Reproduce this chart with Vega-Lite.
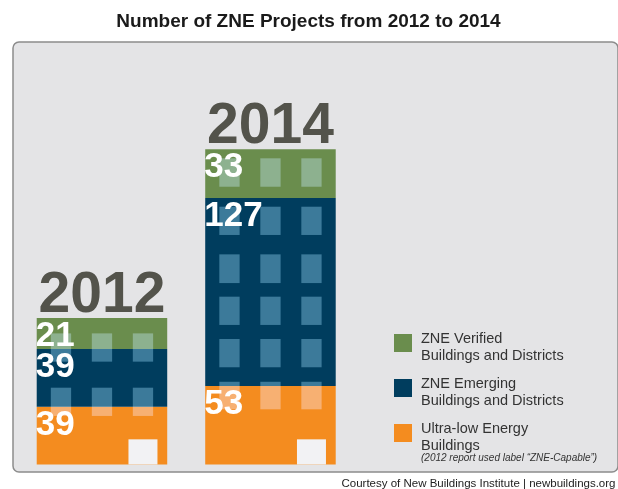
{
  "$schema": "https://vega.github.io/schema/vega-lite/v6.json",
  "width": 605,
  "height": 430,
  "autosize": {"type": "none"},
  "padding": {"left": 13, "top": 42, "right": 0, "bottom": 17},
  "background": "white",
  "config": {
    "view": {"fill": "#e4e4e6", "stroke": "#8c8c8c", "strokeWidth": 1.5, "cornerRadius": 6},
    "font": "Liberation Sans",
    "axisX": {
      "labels": false,
      "ticks": false,
      "domain": false,
      "grid": false,
      "titleFont": "Liberation Sans",
      "titleFontSize": 11.5,
      "titleFontWeight": "normal",
      "titleColor": "#222222",
      "titleX": 602,
      "titleAlign": "right",
      "titlePadding": 5
    }
  },
  "title": {
    "text": "Number of ZNE Projects from 2012 to 2014",
    "font": "Liberation Sans",
    "fontSize": 19,
    "fontWeight": "bold",
    "color": "#1a1a1a",
    "anchor": "middle",
    "frame": "group",
    "offset": 11,
    "dx": -7
  },
  "datasets": {
    "projects": [
      {"year": "2012", "category": "Ultra-low Energy Buildings", "count": 39, "tier": 1},
      {"year": "2012", "category": "ZNE Emerging Buildings and Districts", "count": 39, "tier": 2},
      {"year": "2012", "category": "ZNE Verified Buildings and Districts", "count": 21, "tier": 3},
      {"year": "2014", "category": "Ultra-low Energy Buildings", "count": 53, "tier": 1},
      {"year": "2014", "category": "ZNE Emerging Buildings and Districts", "count": 127, "tier": 2},
      {"year": "2014", "category": "ZNE Verified Buildings and Districts", "count": 33, "tier": 3}
    ],
    "windows": [
      {"year": "2012", "col": "c1", "lo": 69.5, "hi": 88.6},
      {"year": "2012", "col": "c2", "lo": 69.5, "hi": 88.6},
      {"year": "2012", "col": "c3", "lo": 69.5, "hi": 88.6},
      {"year": "2012", "col": "c1", "lo": 32.8, "hi": 51.9},
      {"year": "2012", "col": "c2", "lo": 32.8, "hi": 51.9},
      {"year": "2012", "col": "c3", "lo": 32.8, "hi": 51.9},
      {"year": "2014", "col": "c1", "lo": 187.7, "hi": 206.9},
      {"year": "2014", "col": "c2", "lo": 187.7, "hi": 206.9},
      {"year": "2014", "col": "c3", "lo": 187.7, "hi": 206.9},
      {"year": "2014", "col": "c1", "lo": 155.1, "hi": 174.2},
      {"year": "2014", "col": "c2", "lo": 155.1, "hi": 174.2},
      {"year": "2014", "col": "c3", "lo": 155.1, "hi": 174.2},
      {"year": "2014", "col": "c1", "lo": 122.6, "hi": 142.0},
      {"year": "2014", "col": "c2", "lo": 122.6, "hi": 142.0},
      {"year": "2014", "col": "c3", "lo": 122.6, "hi": 142.0},
      {"year": "2014", "col": "c1", "lo": 94.3, "hi": 113.4},
      {"year": "2014", "col": "c2", "lo": 94.3, "hi": 113.4},
      {"year": "2014", "col": "c3", "lo": 94.3, "hi": 113.4},
      {"year": "2014", "col": "c1", "lo": 65.7, "hi": 84.8},
      {"year": "2014", "col": "c2", "lo": 65.7, "hi": 84.8},
      {"year": "2014", "col": "c3", "lo": 65.7, "hi": 84.8},
      {"year": "2014", "col": "c1", "lo": 37.3, "hi": 55.9},
      {"year": "2014", "col": "c2", "lo": 37.3, "hi": 55.9},
      {"year": "2014", "col": "c3", "lo": 37.3, "hi": 55.9}
    ],
    "doors": [
      {"year": "2012", "col": "c3", "lo": 0, "hi": 17},
      {"year": "2014", "col": "c3", "lo": 0, "hi": 17}
    ]
  },
  "encoding": {
    "x": {
      "field": "year",
      "type": "nominal",
      "scale": {"domain": ["2012", "2014"], "paddingInner": 0.2255, "paddingOuter": 0.908, "align": 0.0775},
      "title": "Courtesy of New Buildings Institute | newbuildings.org"
    }
  },
  "layer": [
    {
      "data": {"name": "projects"},
      "mark": {"type": "bar"},
      "encoding": {
        "y": {
          "field": "count",
          "type": "quantitative",
          "stack": "zero",
          "scale": {"domain": [-5.07, 285.5], "nice": false, "zero": false},
          "axis": null
        },
        "color": {
          "field": "category",
          "type": "nominal",
          "scale": {
            "domain": ["ZNE Verified Buildings and Districts", "ZNE Emerging Buildings and Districts", "Ultra-low Energy Buildings"],
            "range": ["#6a8d4d", "#003d5e", "#f48c1f"]
          },
          "legend": {
            "orient": "none",
            "legendX": 381,
            "legendY": 292,
            "direction": "vertical",
            "padding": 0,
            "symbolType": "square",
            "symbolSize": 324,
            "symbolStrokeWidth": 0,
            "symbolOpacity": 1,
            "labelFont": "Liberation Sans",
            "labelFontSize": 14.5,
            "labelColor": "#333333",
            "labelBaseline": "alphabetic",
            "labelOffset": 9,
            "labelLimit": 300,
            "rowPadding": 14,
            "labelExpr": "datum.label == 'Ultra-low Energy Buildings' ? ['Ultra-low Energy', 'Buildings'] : datum.label == 'ZNE Verified Buildings and Districts' ? ['ZNE Verified', 'Buildings and Districts'] : ['ZNE Emerging', 'Buildings and Districts']",
            "title": "(2012 report used label “ZNE-Capable”)",
            "titleOrient": "bottom",
            "titleFont": "Liberation Sans",
            "titleFontSize": 10,
            "titleFontStyle": "italic",
            "titleFontWeight": "normal",
            "titleColor": "#333333",
            "titleLimit": 400,
            "titlePadding": 1,
            "encode": {"title": {"update": {"dx": {"value": 27}}}}
          }
        },
        "order": {"field": "tier", "type": "quantitative"}
      }
    },
    {
      "data": {"name": "windows"},
      "mark": {"type": "bar", "color": "#3c505f", "blend": "screen"},
      "encoding": {
        "xOffset": {
          "field": "col",
          "type": "nominal",
          "scale": {"domain": ["c1", "c2", "c3"], "paddingInner": 0.505, "paddingOuter": 0.344}
        },
        "y": {
          "field": "hi",
          "type": "quantitative",
          "scale": {"domain": [-5.07, 285.5], "nice": false, "zero": false},
          "axis": null
        },
        "y2": {"field": "lo"}
      }
    },
    {
      "data": {"name": "doors"},
      "mark": {"type": "bar", "color": "#f2f2f4", "width": 29},
      "encoding": {
        "xOffset": {"field": "col", "type": "nominal"},
        "y": {
          "field": "hi",
          "type": "quantitative",
          "scale": {"domain": [-5.07, 285.5], "nice": false, "zero": false},
          "axis": null
        },
        "y2": {"field": "lo"}
      }
    },
    {
      "data": {"name": "projects"},
      "mark": {"type": "text", "align": "left", "baseline": "top", "font": "Liberation Sans", "fontSize": 35, "fontWeight": "bold", "color": "white", "dx": -1},
      "encoding": {
        "x": {"field": "year", "type": "nominal", "bandPosition": 0, "title": "Courtesy of New Buildings Institute | newbuildings.org"},
        "y": {
          "field": "count",
          "type": "quantitative",
          "stack": "zero",
          "scale": {"domain": [-5.07, 285.5], "nice": false, "zero": false},
          "axis": null
        },
        "detail": {"field": "category", "type": "nominal"},
        "order": {"field": "tier", "type": "quantitative"},
        "text": {"field": "count", "type": "quantitative"}
      }
    },
    {
      "data": {"name": "projects"},
      "transform": [{"aggregate": [{"op": "sum", "field": "count", "as": "total"}], "groupby": ["year"]}],
      "mark": {"type": "text", "align": "center", "baseline": "alphabetic", "font": "Liberation Sans", "fontSize": 57, "fontWeight": "bold", "color": "#53534b", "dy": -6},
      "encoding": {
        "y": {
          "field": "total",
          "type": "quantitative",
          "scale": {"domain": [-5.07, 285.5], "nice": false, "zero": false},
          "axis": null
        },
        "text": {"field": "year", "type": "nominal"}
      }
    }
  ]
}
